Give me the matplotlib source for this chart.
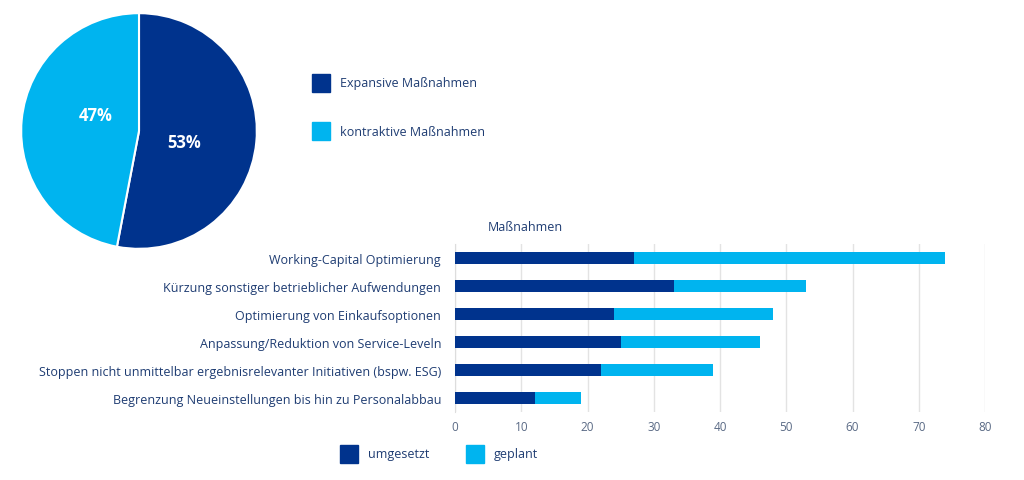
import matplotlib.pyplot as plt
import matplotlib.patches as mpatches
import numpy as np

plt.rcParams['font.family'] = ['Open Sans', 'DejaVu Sans']

dark = '#00338d'
light = '#00b4ef'
text_col = '#1e3c72'
tick_col = '#5a6a85'

pie_labels = ['Expansive Maßnahmen', 'kontraktive Maßnahmen']
pie_values = [53, 47]

kategorien = ['Working-Capital Optimierung',
              'Kürzung sonstiger betrieblicher Aufwendungen',
              'Optimierung von Einkaufsoptionen',
              'Anpassung/Reduktion von Service-Leveln',
              'Stoppen nicht unmittelbar ergebnisrelevanter Initiativen (bspw. ESG)',
              'Begrenzung Neueinstellungen bis hin zu Personalabbau']
umgesetzt = [27, 33, 24, 25, 22, 12]
geplant = [47, 20, 24, 21, 17, 7]
xticks = [0, 10, 20, 30, 40, 50, 60, 70, 80]

fig = plt.figure(figsize=(10.24, 4.81), dpi=100)

# Kreisdiagramm
r = 119
cx, cy = 139, 132
ax_pie = fig.add_axes([(cx - r) / 1024, 1 - (cy + r) / 481, 2 * r / 1024, 2 * r / 481])
wedges, texts, autotexts = ax_pie.pie(
    pie_values, colors=[dark, light], startangle=90, counterclock=False,
    autopct='%.0f%%', pctdistance=0.4,
    wedgeprops=dict(edgecolor='white', linewidth=1.5))
for t in autotexts:
    t.set_color('white')
    t.set_fontsize(12)
    t.set_fontweight('bold')
autotexts[1].set_position((-0.37, 0.14))
autotexts[0].set_position((0.38, -0.09))
ax_pie.set_xlim(-1.01, 1.01)
ax_pie.set_ylim(-1.01, 1.01)
ax_pie.set_aspect('auto')

# Legende Kreis
for i, (lab, col) in enumerate(zip(pie_labels, [dark, light])):
    y0 = 75 + i * 48
    fig.patches.append(mpatches.Rectangle((312 / 1024, 1 - (y0 + 18) / 481), 18 / 1024, 18 / 481,
                                          transform=fig.transFigure, color=col))
    fig.text(340 / 1024, 1 - (y0 + 9) / 481, lab, color=text_col, fontsize=9, va='center')

# Balkendiagramm
ax = fig.add_axes([455 / 1024, 1 - 413 / 481, 530 / 1024, 168 / 481])
y = np.arange(len(kategorien))
ax.barh(y, umgesetzt, height=0.44, color=dark, zorder=3)
ax.barh(y, geplant, left=umgesetzt, height=0.44, color=light, zorder=3)
ax.set_ylim(len(kategorien) - 0.5, -0.5)
ax.set_xlim(0, 80)
ax.set_xticks(xticks)
ax.set_yticks(y)
ax.set_yticklabels(kategorien, color=text_col, fontsize=9)
ax.tick_params(axis='x', colors=tick_col, labelsize=8.5, length=0, pad=6)
ax.tick_params(axis='y', length=0, pad=10)
ax.grid(axis='x', color='#e3e3e3', linewidth=1, zorder=0)
for s in ['top', 'right', 'bottom']:
    ax.spines[s].set_visible(False)
ax.spines['left'].set_color('#dddddd')
fig.text(488 / 1024, 1 - 228 / 481, 'Maßnahmen', color=text_col, fontsize=9, va='center')

# Legende Balken
for lab, col, x0 in [('umgesetzt', dark, 340), ('geplant', light, 466)]:
    fig.patches.append(mpatches.Rectangle((x0 / 1024, 1 - 464 / 481), 18 / 1024, 18 / 481,
                                          transform=fig.transFigure, color=col))
    fig.text((x0 + 28) / 1024, 1 - 455 / 481, lab, color=text_col, fontsize=9, va='center')

fig.savefig('out.png', dpi=100)
